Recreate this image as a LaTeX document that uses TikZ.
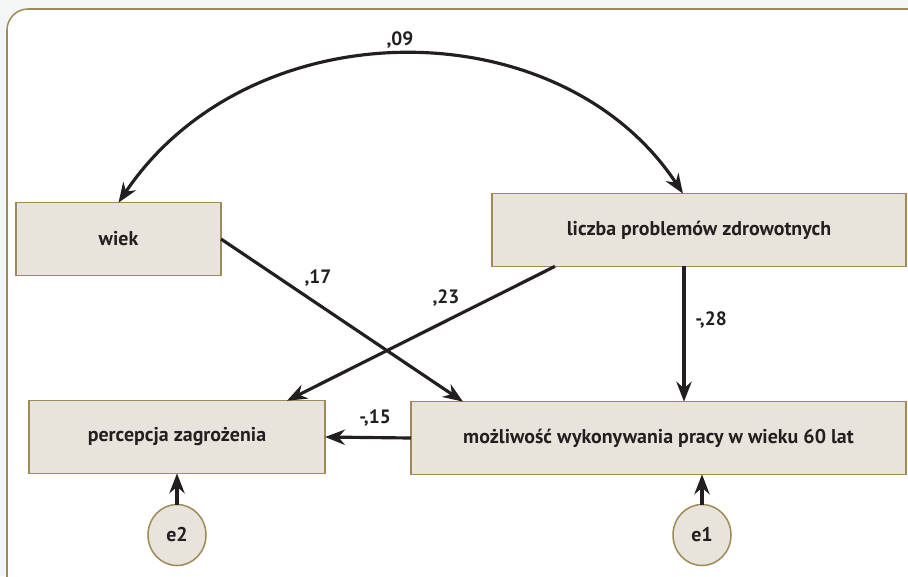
\documentclass[tikz,border=0pt]{standalone}
\usepackage{fontspec}
\setmainfont{PT Sans}
\usetikzlibrary{calc,arrows.meta,shapes.geometric}
\definecolor{ramka}{HTML}{A08A58}
\definecolor{pole}{HTML}{E8E4DC}
\definecolor{tlo}{HTML}{F4F5F5}
\definecolor{tekst}{HTML}{231F20}
\newcommand{\sciezka}[2]{%
  \draw[->] (#1) -- (#2)}

\begin{document}
\begin{tikzpicture}[x=0.03cm, y=-0.03cm,
    zmienna/.style={rectangle, draw=ramka, fill=pole, line width=1.3pt,
      outer sep=0pt, minimum height=2.18cm, text=tekst, font=\bfseries\fontsize{17}{19}\selectfont},
    blad/.style={ellipse, draw=ramka, fill=pole, line width=1.3pt,
      outer sep=0pt, minimum width=1.74cm, minimum height=1.83cm, inner sep=0pt,
      text=tekst, font=\bfseries\fontsize{17}{19}\selectfont},
    waga/.style={text=tekst, font=\bfseries\fontsize{16.5}{18}\selectfont},
    >={Stealth[length=17pt, width=13pt]}, line width=2.7pt, color=tekst]
  \fill[tlo] (0,0) rectangle (908,576);
  \useasboundingbox (0,0) rectangle (908,576);
  \draw[ramka, fill=white, line width=1.3pt, rounded corners=18pt]
    (7,9) rectangle (930,600);

  \node[zmienna, minimum width=6.15cm] (wiek) at (118.5,239) {wiek};
  \node[zmienna, minimum width=12.42cm] (liczba) at (699,230) {liczba problemów zdrowotnych};
  \node[zmienna, minimum width=8.88cm] (perc) at (177,437) {percepcja zagrożenia};
  \node[zmienna, minimum width=14.85cm] (moz) at (658.5,438) {możliwość wykonywania pracy w wieku 60 lat};
  \node[blad] (e2) at (177,535) {e2};
  \node[blad] (e1) at (702,535) {e1};

  \coordinate (liczbaL) at ([xshift=1.89cm]liczba.south west);
  \coordinate (liczbaD) at ([xshift=-0.45cm]liczba.south);
  \coordinate (liczbaG) at ([xshift=-0.48cm]liczba.north);
  \coordinate (mozG) at ([xshift=1.56cm]moz.north west);
  \coordinate (percG) at ([xshift=-1.14cm]perc.north east);

  \draw[<->] (wiek.north) .. controls (250,7) and (560,7) .. (liczbaG);
  \sciezka{wiek.east}{mozG};
  \sciezka{liczbaL}{percG};
  \sciezka{liczbaD}{liczbaD |- moz.north};
  \sciezka{moz.west}{perc.east};
  \sciezka{e2}{e2 |- perc.south};
  \sciezka{e1}{e1 |- moz.south};

  \node[waga] (w09) at (400,40) {,09};
  \node[waga] (w17) at (318,278) {,17};
  \node[waga] (w23) at (446,298) {,23};
  \node[waga] (w28) at (711,320) {-,28};
  \node[waga] (w15) at (375,418) {-,15};
\end{tikzpicture}
\end{document}
